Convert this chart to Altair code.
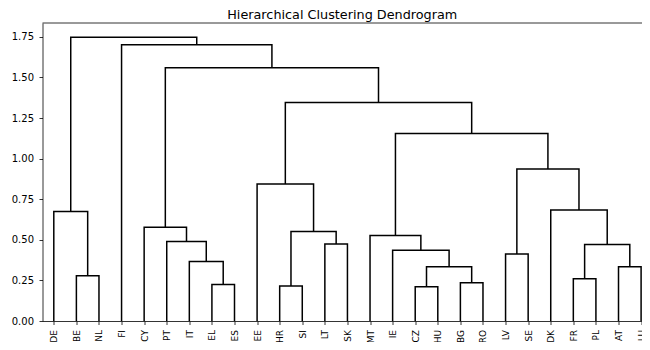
import json
import altair as alt
import pandas as pd

# Leaf order (left to right) as drawn in the dendrogram
leaves = ["DE", "BE", "NL", "FI", "CY", "PT", "IT", "EL", "ES", "EE", "HR", "SI",
          "LT", "SK", "MT", "IE", "CZ", "HU", "BG", "RO", "LV", "SE", "DK", "FR",
          "PL", "AT", "LU"]

# Merges, bottom-up: children are leaf names or "M<i>" (earlier merge), plus height
merge_left = ["EL", "IT", "PT", "CY", "BE", "DE", "HR", "LT", "M6", "EE", "CZ", "BG",
              "M10", "IE", "MT", "LV", "FR", "AT", "M16", "DK", "M15", "M14", "M9",
              "M3", "FI", "M5"]
merge_right = ["ES", "M0", "M1", "M2", "NL", "M4", "SI", "SK", "M7", "M8", "HU", "RO",
               "M11", "M12", "M13", "SE", "PL", "LU", "M17", "M18", "M19", "M20",
               "M21", "M22", "M23", "M24"]
merge_height = [0.225, 0.367, 0.489, 0.577, 0.279, 0.674, 0.215, 0.475, 0.551, 0.844,
                0.211, 0.236, 0.334, 0.436, 0.526, 0.412, 0.260, 0.334, 0.471, 0.684,
                0.936, 1.155, 1.345, 1.560, 1.702, 1.748]

y_ticks = [0.0, 0.25, 0.5, 0.75, 1.0, 1.25, 1.5, 1.75]

# Node positions: leaves at 5, 15, 25, ... (scipy convention)
pos = {name: (5 + 10 * i, 0.0) for i, name in enumerate(leaves)}
rows = []
for i, (l, r, h) in enumerate(zip(merge_left, merge_right, merge_height)):
    xl, hl = pos[l]
    xr, hr = pos[r]
    pts = [(xl, hl), (xl, h), (xr, h), (xr, hr)]
    for k, (x, y) in enumerate(pts):
        rows.append({"merge": f"M{i}", "k": k, "x": x, "y": y})
    pos[f"M{i}"] = ((xl + xr) / 2, h)

df = pd.DataFrame(rows)

ymax = max(merge_height) * 1.05
xmax = 265.4  # visible part of the 0..270 leaf axis (right side is cropped)

label_expr = json.dumps(leaves) + "[round((datum.value - 5) / 10)]"

x_enc = alt.X("x:Q", scale=alt.Scale(domain=[0, xmax], nice=False, zero=False),
              axis=alt.Axis(values=[5 + 10 * i for i in range(len(leaves))],
                            labelExpr=label_expr, labelAngle=270, title=None,
                            grid=False, tickSize=3.5, labelPadding=5,
                            labelFontSize=9,
                            domainColor="black", tickColor="black",
                            domainWidth=0.8, tickWidth=0.8))
y_enc = alt.Y("y:Q", scale=alt.Scale(domain=[0, ymax], nice=False),
              axis=alt.Axis(values=y_ticks, format=".2f", title=None, grid=False,
                            tickSize=3.5, labelPadding=5.5, labelFontSize=10,
                            domainColor="black", tickColor="black",
                            domainWidth=0.8, tickWidth=0.8))

lines = alt.Chart(df).mark_line(color="black", strokeWidth=1.5, clip=True,
                                strokeJoin="miter").encode(
    x=x_enc, y=y_enc, detail="merge:N", order="k:Q")

top = alt.Chart(pd.DataFrame({"v": [ymax]})).mark_rule(color="black", strokeWidth=0.8).encode(
    y=alt.Y("v:Q"))

chart = alt.layer(lines, top).properties(
    width=599.5, height=298,
    title=alt.Title("Hierarchical Clustering Dendrogram", fontSize=12.8,
                    fontWeight="normal", font="DejaVu Sans", color="black",
                    offset=0.5),
    autosize=alt.AutoSizeParams(type="none"),
    padding={"left": 34.5, "top": 15, "right": 0, "bottom": 21},
).configure_view(stroke=None).configure_axis(
    labelFont="DejaVu Sans", labelColor="black"
)

chart.save("out.html", embed_options={"renderer": "svg", "actions": False})
